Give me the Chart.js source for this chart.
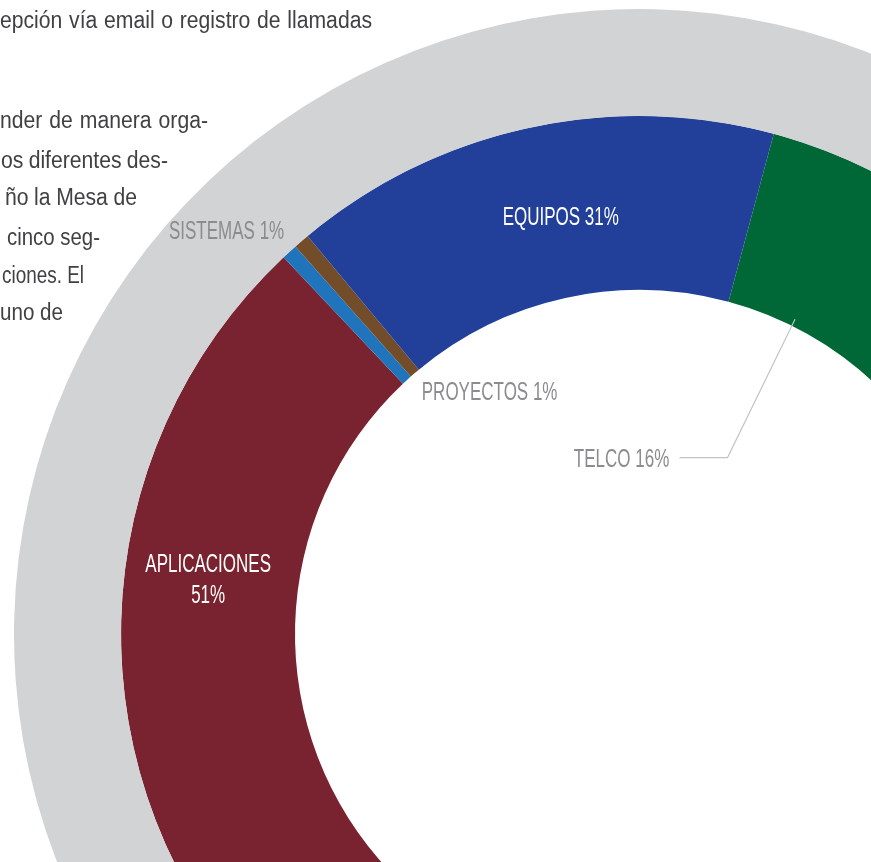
<!DOCTYPE html>
<html>
<head>
<meta charset="utf-8">
<script src="https://cdn.jsdelivr.net/npm/chart.js@4.4.1/dist/chart.umd.min.js"></script>
<style>
html, body { margin: 0; padding: 0; width: 871px; height: 862px; overflow: hidden; background: #fff; }
#wrap { position: relative; width: 871px; height: 862px; overflow: hidden; }
#mycanvas { position: absolute; left: 14px; top: 9px; }
.line {
  position: absolute; white-space: pre; transform-origin: 0 0;
  font-family: 'Liberation Sans', Arial, sans-serif;
  font-size: 23px; line-height: 23px; color: #414042;
}
</style>
</head>
<body>
<div id="wrap">
  <canvas id="mycanvas" width="1250" height="1250"></canvas>
</div>
<script>
// chart data
var categories = ["APLICACIONES", "PROYECTOS", "SISTEMAS", "EQUIPOS", "TELCO"];
var shares = [51, 1, 1, 31, 16];
var colours = ["#7a2330", "#1f74bb", "#734c29", "#22409a", "#006837"];
var ringValue = [100];

// text from the page around the chart (clipped at the left edge)
var pageText = [
  "epción vía email o registro de llamadas",
  "nder de manera orga-",
  "os diferentes des-",
  "ño la Mesa de",
  "cinco seg-",
  "ciones. El",
  "uno de"
];
var textLeft = [0, 0, 1, 5, 7, 2, 0];
var textRight = [372, 208, 168, 137, 100, 84, 63];
var textBase = [28, 128, 168, 205, 245, 283, 320];

var wrap = document.getElementById("wrap");
pageText.forEach(function(t, i) {
  var d = document.createElement("div");
  d.className = "line";
  d.textContent = t;
  d.style.left = textLeft[i] + "px";
  d.style.top = (textBase[i] - 19.5) + "px";
  wrap.appendChild(d);
  // squeeze like the condensed print font, then justify with word spacing
  var w = d.getBoundingClientRect().width;
  var target = textRight[i] - textLeft[i];
  var spaces = t.split(" ").length - 1;
  var s = 0.92;
  var extra = target / s - w;
  if (spaces > 0 && extra / spaces > -1.5) {
    d.style.wordSpacing = (extra / spaces) + "px";
  } else {
    s = target / w;
  }
  d.style.transform = "scaleX(" + s + ")";
});

var labelFont = '25px "Liberation Sans", Arial, sans-serif';
var grey = "#8b8c8e";

// label placement relative to the centre point of each slice
var placements = [
  { index: 0, color: "#fff", dx: 0, dy: [-50.5, -19.5], two: true },
  { index: 1, color: grey, dx: 141.5, dy: [84] },
  { index: 2, color: grey, dx: -131.5, dy: [-67.7] },
  { index: 3, color: "#fff", dx: 14, dy: [12] },
  { index: 4, color: grey, dx: -228, dy: [208.7], leader: [[-170, 199.7], [-122, 199.7], [-54.5, 61.3]] }
];

var labelPlugin = {
  id: "sliceLabels",
  afterDatasetsDraw: function(chart) {
    var meta = chart.getDatasetMeta(1);
    var ctx = chart.ctx;
    ctx.save();
    placements.forEach(function(p) {
      var c = meta.data[p.index].getCenterPoint();
      if (p.leader) {
        ctx.beginPath();
        ctx.strokeStyle = "#c3c4c6";
        ctx.lineWidth = 1.2;
        p.leader.forEach(function(pt, k) {
          if (k == 0) ctx.moveTo(c.x + pt[0], c.y + pt[1]);
          else ctx.lineTo(c.x + pt[0], c.y + pt[1]);
        });
        ctx.stroke();
      }
      var lines = p.two ? [categories[p.index], shares[p.index] + "%"] : [categories[p.index] + " " + shares[p.index] + "%"];
      ctx.fillStyle = p.color;
      ctx.font = labelFont;
      ctx.textAlign = "center";
      ctx.textBaseline = "alphabetic";
      lines.forEach(function(txt, k) {
        ctx.save();
        ctx.translate(c.x + p.dx, c.y + p.dy[k]);
        ctx.scale(0.68, 1);
        ctx.fillText(txt, 0, 0);
        ctx.restore();
      });
    });
    ctx.restore();
  }
};

var ctx = document.getElementById("mycanvas");
var chart = new Chart(ctx, {
  type: "doughnut",
  data: {
    labels: categories,
    datasets: [
      {
        data: ringValue,
        backgroundColor: ["#d1d3d4"],
        borderWidth: 0, hoverBorderWidth: 0, hoverOffset: 0,
        weight: 107, rotation: -133.6, circumference: 360
      },
      {
        data: shares,
        backgroundColor: colours,
        borderWidth: 0, hoverBorderWidth: 0, hoverOffset: 0,
        weight: 174, rotation: -133.6, circumference: 177
      }
    ]
  },
  options: {
    responsive: false,
    animation: false,
    cutout: 344,
    events: [],
    layout: { padding: 0 },
    plugins: {
      legend: { display: false },
      tooltip: { enabled: false }
    }
  },
  plugins: [labelPlugin]
});
</script>
</body>
</html>
